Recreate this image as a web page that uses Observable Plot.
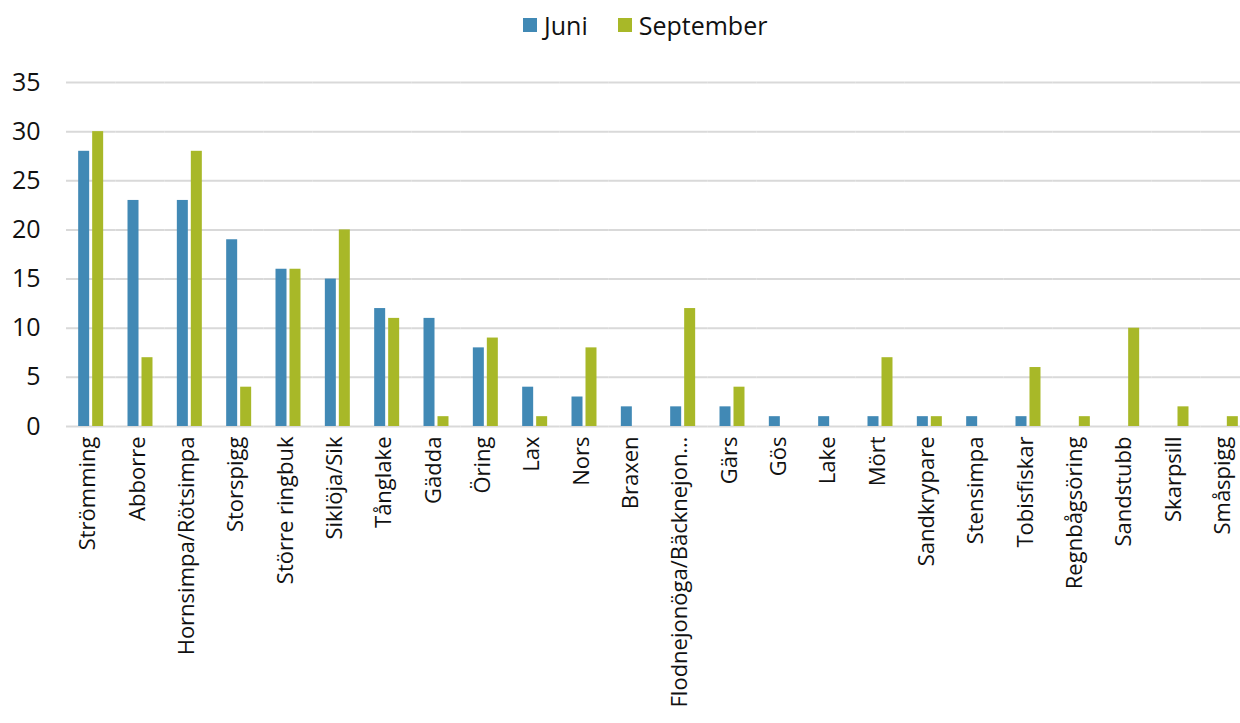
<!DOCTYPE html>
<html>
<head>
<meta charset="utf-8">
<script src="https://cdn.jsdelivr.net/npm/d3@7"></script>
<script src="https://cdn.jsdelivr.net/npm/@observablehq/plot@0.6"></script>
<style>
  body { margin: 0; background: #fff; font-family: "Open Sans", "Liberation Sans", sans-serif; overflow: hidden; width: 1240px; }
  #legend { width: 1240px; height: 50px; display: flex; justify-content: flex-start; align-items: flex-start; gap: 30px; font-size: 25px; color: #111; box-sizing: border-box; padding-top: 8px; padding-left: 523px; }
  #legend span.item { display: flex; align-items: center; gap: 7px; }
  #legend span.sw { display: inline-block; width: 14px; height: 14px; }
  #chart { width: 1240px; overflow: hidden; }
  #chart svg { max-width: none !important; }
</style>
</head>
<body>
<div id="legend"></div>
<div id="chart"></div>
<script>
const categories = ["Strömming","Abborre","Hornsimpa/Rötsimpa","Storspigg","Större ringbuk","Siklöja/Sik","Tånglake","Gädda","Öring","Lax","Nors","Braxen","Flodnejonöga/Bäcknejon…","Gärs","Gös","Lake","Mört","Sandkrypare","Stensimpa","Tobisfiskar","Regnbågsöring","Sandstubb","Skarpsill","Småspigg"];
const juni      = [28,23,23,19,16,15,12,11,8,4,3,2,2,2,1,1,1,1,1,1,0,0,0,0];
const september = [30,7,28,4,16,20,11,1,9,1,8,0,12,4,0,0,7,1,0,6,1,10,2,1];
const series = ["Juni","September"];
const colors = ["#4189b5","#a8b828"];
const yTicks = [0,5,10,15,20,25,30,35];

const data = categories.flatMap((c,i) => [
  {art: c, month: series[0], value: juni[i]},
  {art: c, month: series[1], value: september[i]}
]);

const legend = document.getElementById("legend");
series.forEach((s,i) => {
  const it = document.createElement("span");
  it.className = "item";
  it.innerHTML = `<span class="sw" style="background:${colors[i]}"></span><span>${s}</span>`;
  legend.appendChild(it);
});

const chart = Plot.plot({
  width: 1250,
  height: 673,
  marginLeft: 66,
  marginRight: 0,
  marginTop: 32,
  marginBottom: 297,
  style: {fontFamily: "'Open Sans', sans-serif", fontSize: "25px", color: "#111", background: "#fff", maxWidth: "none"},
  fx: {domain: categories, padding: 0, round: false, label: null, tickRotate: -90, tickSize: 0, tickPadding: 10},
  x: {domain: series, axis: null, round: false, paddingInner: 0.214, paddingOuter: 0.87},
  y: {domain: [0,35], ticks: yTicks, label: null, tickSize: 0, tickPadding: 26},
  color: {domain: series, range: colors},
  marks: [
    Plot.ruleY(yTicks, {stroke: "#d9d9d9", strokeWidth: 2}),
    Plot.barY(data, {fx: "art", x: "month", y: "value", fill: "month"})
  ]
});
chart.querySelectorAll('g[aria-label^="fx-axis"]').forEach(g => {
  g.setAttribute("font-size", "22");
  const t = g.getAttribute("transform") || "";
  g.setAttribute("transform", (t + " translate(-3,0)").trim());
});
document.getElementById("chart").appendChild(chart);
</script>
</body>
</html>
